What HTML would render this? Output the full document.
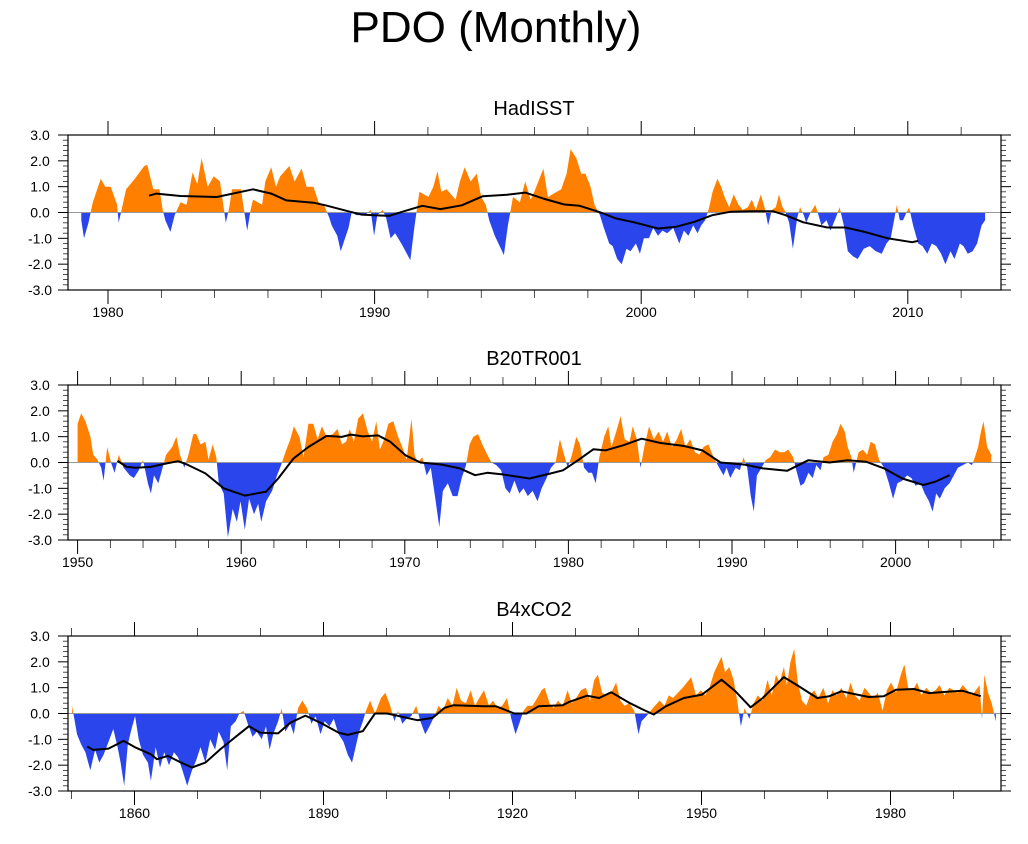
<!DOCTYPE html>
<html><head><meta charset="utf-8"><style>
body{margin:0;background:#fff;}
svg{display:block;font-family:"Liberation Sans",sans-serif;}
</style></head><body>
<svg id="chart" width="1028" height="844" viewBox="0 0 1028 844" xmlns="http://www.w3.org/2000/svg">
<text x="496" y="42" font-size="44" text-anchor="middle">PDO (Monthly)</text>
</svg>
<script>
// HadISST
const hadYears=[1979.0,1979.1,1979.27,1979.43,1979.73,1979.9,1980.1,1980.34,1980.4,1980.55,1980.68,1981.0,1981.36,1981.47,1981.7,1981.93,1982.05,1982.15,1982.34,1982.5,1982.72,1982.95,1983.17,1983.35,1983.51,1983.74,1983.97,1984.2,1984.35,1984.42,1984.55,1984.65,1984.99,1985.1,1985.22,1985.35,1985.44,1985.78,1985.9,1986.12,1986.3,1986.46,1986.8,1987.0,1987.26,1987.45,1987.71,1987.9,1988.1,1988.3,1988.39,1988.6,1988.73,1989.02,1989.15,1989.3,1989.64,1989.85,1989.98,1990.1,1990.3,1990.43,1990.6,1990.77,1991.0,1991.11,1991.34,1991.5,1991.68,1992.02,1992.2,1992.36,1992.5,1992.7,1993.04,1993.2,1993.38,1993.6,1993.83,1994.0,1994.17,1994.3,1994.51,1994.85,1995.0,1995.19,1995.45,1995.65,1995.85,1995.99,1996.33,1996.5,1996.67,1997.0,1997.2,1997.35,1997.57,1997.75,1997.91,1998.1,1998.25,1998.45,1998.6,1998.8,1998.93,1999.1,1999.27,1999.45,1999.6,1999.8,1999.95,2000.1,2000.29,2000.45,2000.63,2000.8,2000.97,2001.2,2001.43,2001.6,2001.77,2001.95,2002.11,2002.25,2002.4,2002.55,2002.68,2002.86,2003.0,2003.13,2003.3,2003.47,2003.65,2003.81,2004.0,2004.15,2004.3,2004.49,2004.65,2004.76,2004.9,2005.05,2005.17,2005.3,2005.4,2005.55,2005.69,2005.85,2005.96,2006.1,2006.19,2006.35,2006.53,2006.65,2006.76,2006.95,2007.1,2007.3,2007.44,2007.6,2007.75,2007.95,2008.12,2008.35,2008.57,2008.8,2009.02,2009.2,2009.36,2009.5,2009.59,2009.7,2009.82,2009.95,2010.05,2010.2,2010.39,2010.55,2010.73,2010.9,2011.07,2011.25,2011.41,2011.6,2011.75,2011.95,2012.09,2012.25,2012.43,2012.6,2012.77,2012.9];
const hadValues=[-0.3,-1.0,-0.4,0.4,1.3,1.0,1.0,0.3,-0.4,0.3,0.9,1.3,1.8,1.85,0.9,0.9,0.1,-0.3,-0.75,-0.1,0.4,0.3,1.55,1.1,2.1,1.0,1.4,1.2,0.1,-0.4,0.2,0.9,0.9,0.1,-0.7,0.1,0.5,0.3,1.2,1.75,1.0,1.4,1.8,1.2,1.7,1.0,1.0,0.4,0.3,-0.2,-0.5,-0.9,-1.5,-0.6,0.05,-0.1,-0.1,0.1,-0.9,-0.1,0.1,-0.2,-1.0,-0.8,-1.2,-1.4,-1.85,-0.5,0.8,0.6,1.0,1.6,0.8,0.9,0.5,1.2,1.75,1.2,1.5,0.6,0.3,-0.3,-0.9,-1.65,-0.5,0.6,0.4,1.2,0.5,0.8,1.7,0.6,0.7,0.9,1.5,2.45,2.1,1.5,1.5,1.0,0.3,-0.1,-0.6,-1.2,-1.3,-1.8,-2.0,-1.4,-1.5,-1.2,-1.6,-1.0,-1.0,-0.6,-0.9,-0.7,-0.8,-0.6,-1.2,-0.7,-0.9,-0.5,-0.8,-0.5,-0.3,0.2,0.8,1.3,1.0,0.6,0.2,0.7,0.3,0.1,0.2,0.5,0.1,0.7,0.1,-0.5,0.1,0.2,0.7,0.2,0.05,-0.4,-1.4,-0.2,0.2,-0.1,-0.4,0.0,0.3,-0.1,-0.5,-0.3,-0.7,-0.2,0.2,-0.5,-1.5,-1.7,-1.8,-1.4,-1.3,-1.5,-1.6,-1.2,-1.0,-0.2,0.3,-0.3,-0.3,0.0,0.2,-0.5,-1.2,-1.3,-1.6,-1.2,-1.3,-1.6,-2.0,-1.5,-1.8,-1.2,-1.3,-1.6,-1.5,-1.2,-0.5,-0.3];
const hadSmoothYears=[1981.54,1981.81,1982.72,1984.08,1985.44,1986.12,1986.69,1987.71,1988.16,1989.07,1989.52,1990.54,1991.11,1991.79,1992.47,1993.27,1994.06,1994.97,1995.65,1996.33,1997.12,1997.69,1998.48,1999.05,1999.73,2000.63,2001.32,2002.0,2002.68,2003.36,2004.15,2004.94,2005.4,2006.08,2006.98,2007.66,2008.34,2009.25,2010.16,2010.39];
const hadSmooth=[0.65,0.73,0.64,0.6,0.9,0.73,0.47,0.38,0.28,0.03,-0.08,-0.13,0.05,0.26,0.13,0.28,0.63,0.69,0.77,0.54,0.31,0.26,0.0,-0.23,-0.38,-0.62,-0.55,-0.36,-0.1,0.03,0.05,0.05,-0.1,-0.38,-0.58,-0.58,-0.74,-1.0,-1.15,-1.1];
const hadTicks=[1980,1990,2000,2010];

// B20TR001
const b20Years=[1950.0,1950.22,1950.48,1950.78,1950.96,1951.22,1951.44,1951.59,1951.81,1952.04,1952.26,1952.52,1952.81,1953.19,1953.44,1953.74,1954.0,1954.3,1954.48,1954.67,1954.93,1955.15,1955.41,1955.78,1956.04,1956.26,1956.52,1956.78,1957.07,1957.26,1957.52,1957.81,1958.0,1958.26,1958.48,1958.63,1958.93,1959.19,1959.48,1959.74,1959.96,1960.22,1960.48,1960.78,1961.04,1961.22,1961.52,1961.89,1962.19,1962.44,1962.7,1963.0,1963.22,1963.56,1963.81,1964.11,1964.41,1964.67,1964.93,1965.22,1965.59,1965.89,1966.15,1966.41,1966.63,1966.89,1967.15,1967.44,1967.74,1968.0,1968.26,1968.48,1968.74,1969.0,1969.3,1969.59,1969.85,1970.11,1970.41,1970.59,1970.78,1971.07,1971.33,1971.59,1971.89,1972.11,1972.33,1972.63,1972.93,1973.22,1973.48,1973.74,1973.96,1974.19,1974.48,1974.74,1975.04,1975.3,1975.59,1975.89,1976.15,1976.41,1976.7,1977.0,1977.26,1977.52,1977.81,1978.11,1978.37,1978.67,1978.93,1979.22,1979.48,1979.74,1979.96,1980.22,1980.48,1980.7,1980.96,1981.22,1981.44,1981.67,1981.89,1982.19,1982.44,1982.63,1982.93,1983.19,1983.44,1983.74,1983.93,1984.19,1984.41,1984.67,1984.93,1985.22,1985.52,1985.78,1986.04,1986.33,1986.63,1986.89,1987.15,1987.44,1987.74,1988.0,1988.26,1988.56,1988.81,1989.0,1989.22,1989.48,1989.67,1989.89,1990.22,1990.48,1990.7,1990.93,1991.15,1991.33,1991.52,1991.81,1992.07,1992.33,1992.63,1992.93,1993.19,1993.44,1993.74,1993.93,1994.19,1994.41,1994.67,1994.93,1995.15,1995.41,1995.59,1995.89,1996.15,1996.41,1996.63,1996.89,1997.07,1997.3,1997.44,1997.74,1998.0,1998.26,1998.48,1998.74,1999.0,1999.3,1999.59,1999.85,2000.11,2000.41,2000.7,2000.96,2001.22,2001.52,2001.78,2002.04,2002.26,2002.48,2002.7,2003.0,2003.3,2003.56,2003.81,2004.11,2004.41,2004.67,2004.85,2005.04,2005.22,2005.37,2005.59,2005.85];
const b20Values=[1.5,1.9,1.6,1.0,0.3,0.1,-0.2,-0.7,0.6,0.0,-0.4,0.3,-0.2,-0.5,-0.6,-0.3,0.1,-0.8,-1.2,-0.5,-0.8,-0.3,0.3,0.6,1.0,0.3,-0.2,0.3,1.1,1.1,0.7,0.8,0.1,0.7,0.2,-0.8,-1.2,-2.9,-1.8,-2.3,-1.5,-2.6,-1.4,-2.0,-1.6,-2.3,-1.5,-1.1,-0.5,-0.1,0.4,0.9,1.4,1.0,0.2,1.5,1.5,0.9,1.4,1.0,1.1,1.3,0.7,0.8,1.3,0.8,1.7,1.9,1.2,0.8,1.6,0.5,0.9,1.5,1.6,1.0,0.6,0.1,1.7,0.3,0.0,0.2,-0.5,-0.2,-1.5,-2.5,-1.1,-0.8,-1.3,-1.3,-0.6,-0.1,0.7,1.0,1.1,0.7,0.3,0.0,-0.1,-0.3,-1.0,-1.2,-0.7,-1.2,-1.0,-1.3,-1.1,-1.5,-1.0,-0.6,-0.2,0.0,0.9,0.3,-0.2,0.3,1.0,0.7,-0.2,-0.4,-0.4,-0.8,0.2,1.0,1.4,0.6,1.2,1.8,0.9,0.8,1.4,0.9,-0.2,0.7,1.4,0.9,1.2,0.8,1.2,0.6,0.9,1.3,0.6,0.9,0.4,0.3,0.6,0.7,0.3,0.05,-0.2,-0.5,-0.2,-0.6,-0.2,-0.3,0.2,-0.2,-1.3,-1.9,-0.5,-0.2,0.1,0.2,0.5,0.4,0.4,0.5,0.2,-0.3,-0.9,-0.8,-0.4,-0.6,-0.1,-0.3,0.2,0.3,0.8,1.1,1.5,1.2,0.6,0.2,-0.4,0.4,0.5,0.3,0.8,0.7,0.1,-0.2,-0.8,-1.4,-0.8,-0.7,-0.5,-0.6,-0.9,-0.8,-1.2,-1.5,-1.9,-1.2,-1.4,-1.0,-0.8,-0.5,-0.2,-0.1,0.0,-0.1,0.2,0.6,1.2,1.6,0.6,0.3];
const b20SmoothYears=[1952.44,1953.0,1953.56,1954.48,1955.41,1956.15,1956.7,1957.81,1958.93,1960.22,1961.52,1962.26,1963.19,1964.11,1965.22,1966.15,1966.7,1967.44,1968.37,1969.11,1970.04,1970.96,1972.26,1973.37,1974.3,1975.04,1975.96,1977.63,1978.93,1979.67,1980.59,1981.52,1982.26,1983.37,1984.48,1985.59,1987.07,1988.19,1989.3,1990.78,1991.89,1993.37,1994.67,1995.96,1997.07,1998.19,1999.3,2000.41,2001.7,2002.44,2003.3];
const b20Smooth=[0.06,-0.17,-0.2,-0.17,-0.04,0.05,-0.08,-0.42,-1.0,-1.28,-1.13,-0.62,0.15,0.6,1.03,0.99,1.08,1.01,1.05,0.8,0.28,0,-0.08,-0.23,-0.49,-0.4,-0.46,-0.62,-0.42,-0.3,0.09,0.51,0.47,0.67,0.92,0.76,0.64,0.47,0,-0.08,-0.23,-0.32,0.09,0,0.09,0.03,-0.23,-0.62,-0.87,-0.74,-0.49];
const b20Ticks=[1950,1960,1970,1980,1990,2000];

// B4xCO2
const b4Years=[1850.1,1850.87,1851.54,1852.21,1852.98,1853.75,1854.42,1855.1,1855.87,1856.63,1857.31,1857.79,1858.37,1858.94,1859.52,1860.1,1860.67,1861.35,1862.12,1862.6,1863.37,1864.04,1864.71,1865.48,1866.25,1866.92,1867.6,1868.37,1869.13,1869.81,1870.48,1871.25,1872.02,1872.79,1873.37,1874.13,1874.71,1875.29,1876.06,1876.63,1877.31,1877.98,1878.75,1879.42,1880.19,1880.87,1881.44,1882.02,1882.79,1883.37,1883.94,1884.71,1885.29,1885.96,1886.63,1887.4,1888.08,1888.75,1889.52,1890.19,1890.96,1891.63,1892.4,1893.17,1893.85,1894.52,1895.1,1895.67,1896.25,1896.73,1897.4,1898.17,1899.13,1899.81,1900.58,1901.25,1901.83,1902.5,1903.17,1903.94,1904.71,1905.38,1906.15,1906.83,1907.6,1908.27,1908.94,1909.71,1910.48,1911.15,1911.83,1912.6,1913.37,1914.04,1914.71,1915.48,1916.25,1916.92,1917.6,1918.37,1919.13,1919.81,1920.48,1921.06,1921.73,1922.4,1923.17,1923.94,1924.62,1925.1,1925.87,1926.54,1927.21,1927.98,1928.75,1929.42,1930.1,1930.87,1931.63,1932.31,1932.98,1933.56,1934.23,1934.9,1935.67,1936.44,1937.12,1937.79,1938.56,1939.33,1940.0,1940.48,1941.25,1941.92,1942.6,1943.37,1944.13,1944.81,1945.48,1946.25,1947.02,1947.69,1948.37,1949.13,1949.9,1950.58,1951.25,1952.02,1952.6,1953.17,1953.75,1954.42,1955.1,1955.67,1956.25,1956.83,1957.6,1958.27,1958.94,1959.71,1960.48,1961.15,1961.83,1962.4,1963.08,1963.56,1964.13,1964.71,1965.29,1965.96,1966.63,1967.21,1967.88,1968.56,1969.33,1970.1,1970.77,1971.44,1972.21,1972.98,1973.65,1974.33,1975.1,1975.87,1976.54,1977.21,1977.98,1978.75,1979.42,1980.1,1980.87,1981.63,1982.21,1982.79,1983.56,1984.23,1984.9,1985.67,1986.44,1987.12,1987.79,1988.56,1989.33,1990.0,1990.67,1991.44,1992.21,1992.88,1993.56,1994.13,1994.52,1994.9,1995.48,1996.06,1996.73];
const b4Values=[0.3,-0.8,-1.2,-1.5,-2.2,-1.4,-1.9,-1.6,-1.1,-0.6,-1.3,-1.9,-2.8,-1.2,-0.6,-0.1,-1.0,-1.6,-1.9,-2.6,-1.3,-2.1,-1.5,-2.0,-1.5,-1.7,-2.2,-2.8,-2.2,-1.8,-1.3,-1.9,-1.0,-1.4,-0.7,-1.1,-2.2,-0.5,-0.3,0.0,0.1,-0.4,-0.9,-0.7,-1.0,-0.5,-1.4,-0.8,-0.3,0.2,-0.7,-0.4,-0.8,0.2,0.5,0.2,-0.4,-0.1,-0.8,-0.3,-0.5,-0.2,-0.8,-1.1,-1.6,-1.9,-1.3,-0.7,-0.3,0.1,0.5,0.0,0.6,0.8,0.3,-0.3,0.1,-0.4,-0.2,-0.1,0.3,-0.3,-0.8,-0.5,-0.1,0.3,0.1,0.6,0.3,1.0,0.5,0.4,0.9,0.3,0.6,0.9,0.3,0.5,0.2,0.3,0.6,-0.2,-0.8,-0.4,0.1,0.3,0.3,0.6,0.9,1.0,0.4,0.2,0.5,0.3,0.9,0.4,0.6,0.9,1.0,0.5,1.3,1.5,0.8,0.7,0.8,1.2,0.5,0.3,0.4,0.1,-0.8,-0.3,-0.1,0.1,0.3,0.5,0.3,0.7,0.6,0.8,1.0,1.2,1.4,0.7,0.9,0.7,1.0,1.6,1.9,2.2,1.6,1.8,1.3,0.5,-0.5,0.2,-0.2,0.4,0.7,0.5,1.3,0.7,1.5,1.2,1.8,1.1,2.0,2.5,1.2,0.5,0.3,0.7,0.9,0.6,1.0,0.4,0.9,0.7,1.0,0.6,1.2,0.7,0.5,1.0,0.8,0.6,0.8,0.1,0.9,1.2,0.8,1.5,1.9,1.0,0.9,1.2,0.7,1.0,0.8,0.9,1.1,0.7,1.0,0.9,0.8,1.1,0.9,0.7,0.9,1.1,-0.2,1.5,0.8,0.4,-0.3];
const b4SmoothYears=[1852.5,1853.46,1855.87,1858.27,1860.19,1862.6,1863.56,1865.29,1867.4,1869.13,1871.25,1873.65,1876.06,1878.17,1879.9,1882.79,1884.71,1887.12,1889.52,1892.4,1893.85,1896.25,1898.17,1900.1,1902.02,1904.9,1907.31,1909.23,1910.67,1915.48,1917.4,1920.29,1922.21,1924.13,1927.98,1928.94,1931.83,1933.75,1935.67,1938.56,1940.48,1942.4,1944.33,1947.21,1950.1,1953.17,1955.38,1957.79,1959.71,1963.08,1965.48,1968.37,1970.29,1972.21,1974.13,1976.54,1978.94,1980.87,1983.75,1986.15,1989.52,1991.44,1994.33];
const b4Smooth=[-1.28,-1.41,-1.36,-1.06,-1.32,-1.58,-1.77,-1.64,-1.9,-2.09,-1.9,-1.38,-0.9,-0.49,-0.74,-0.77,-0.36,-0.08,-0.36,-0.74,-0.83,-0.68,0,0,-0.1,-0.26,-0.17,0.22,0.32,0.28,0.28,0,0,0.28,0.32,0.44,0.69,0.6,0.82,0.41,0.18,-0.04,0.28,0.6,0.73,1.31,0.86,0.24,0.6,1.41,1.05,0.6,0.67,0.86,0.76,0.64,0.67,0.92,0.95,0.79,0.85,0.88,0.67];
const b4Ticks=[1860,1890,1920,1950,1980];
const yTickLabels=["3.0","2.0","1.0","0.0","-1.0","-2.0","-3.0"];

const NS="http://www.w3.org/2000/svg";
const svg=document.getElementById('chart');
function mk(tag,attrs,parent){const e=document.createElementNS(NS,tag);for(const k in attrs)e.setAttribute(k,attrs[k]);(parent||svg).appendChild(e);return e;}

const panels=[
 {key:'hadisst',title:'HadISST',top:135,x0:1980,px0:108,ppy:26.66,minor:2,years:hadYears,vals:hadValues,sy:hadSmoothYears,sv:hadSmooth,ticks:hadTicks},
 {key:'b20tr001',title:'B20TR001',top:385,x0:1950,px0:77.6,ppy:16.36,minor:2,years:b20Years,vals:b20Values,sy:b20SmoothYears,sv:b20Smooth,ticks:b20Ticks},
 {key:'b4xco2',title:'B4xCO2',top:636,x0:1860,px0:134.5,ppy:6.3,minor:10,years:b4Years,vals:b4Values,sy:b4SmoothYears,sv:b4Smooth,ticks:b4Ticks}
];
const L=68,R=1001,H=155;
panels.forEach(p=>{
 const g=mk('g',{});
 
 
 const xs=y=>p.px0+(y-p.x0)*p.ppy;
 const ys=v=>p.top+H/2-v*(H/6);
 const zero=ys(0);
 const t=mk('text',{x:534,y:p.top-20,'font-size':20,'text-anchor':'middle'},g);
 t.textContent=p.title;
 
 
 const cid='clip-'+p.key;
 const defs=mk('defs',{},g);
 const cp=mk('clipPath',{id:cid+'-pos'},defs);
 mk('rect',{x:L,y:p.top,width:R-L,height:zero-p.top},cp);
 const cn=mk('clipPath',{id:cid+'-neg'},defs);
 mk('rect',{x:L,y:zero,width:R-L,height:p.top+H-zero},cn);
 let d='M'+xs(p.years[0]).toFixed(1)+','+zero.toFixed(1);
 p.years.forEach((yr,i)=>{d+='L'+xs(yr).toFixed(1)+','+ys(p.vals[i]).toFixed(1);});
 d+='L'+xs(p.years[p.years.length-1]).toFixed(1)+','+zero.toFixed(1)+'Z';
 const ap=mk('path',{d:d,fill:'#ff8000','clip-path':'url(#'+cid+'-pos)'},g);
 
 
 const an=mk('path',{d:d,fill:'#2a45ec','clip-path':'url(#'+cid+'-neg)'},g);
 
 
 const zl=mk('line',{x1:L,x2:R,y1:zero,y2:zero,stroke:'#999','stroke-width':1},g);
 
 
 let sd='';
 p.sy.forEach((yr,i)=>{sd+=(i?'L':'M')+xs(yr).toFixed(1)+','+ys(p.sv[i]).toFixed(1);});
 const sl=mk('path',{d:sd,fill:'none',stroke:'#000','stroke-width':2,'stroke-linejoin':'round'},g);
 
 
 const fr=mk('rect',{x:L,y:p.top,width:R-L,height:H,fill:'none',stroke:'#000','stroke-width':1.2},g);
 
 
 for(let k=0;k<=30;k++){
  const v=3-k*0.2, y=ys(v), major=k%5===0, len=major?10:5;
  mk('line',{x1:L-len,x2:L,y1:y,y2:y,stroke:'#000','stroke-width':major?1:0.7},g);
  mk('line',{x1:R,x2:R+len,y1:y,y2:y,stroke:'#000','stroke-width':major?1:0.7},g);
 }
 yTickLabels.forEach((lab,i)=>{
  const tx=mk('text',{x:L-28,y:ys(3-i)+5,'font-size':14,'text-anchor':'middle'},g);
  tx.textContent=lab;
  
  
 });
 const yStart=Math.ceil((p.x0-(p.px0-L)/p.ppy)/p.minor)*p.minor;
 for(let yr=yStart;xs(yr)<=R;yr+=p.minor){
  const x=xs(yr), major=p.ticks.indexOf(yr)>=0, len=major?14:8;
  mk('line',{x1:x,x2:x,y1:p.top-len,y2:p.top,stroke:'#000','stroke-width':major?1:0.7},g);
  mk('line',{x1:x,x2:x,y1:p.top+H,y2:p.top+H+len,stroke:'#000','stroke-width':major?1:0.7},g);
 }
 p.ticks.forEach(yr=>{
  const tx=mk('text',{x:xs(yr),y:p.top+H+27,'font-size':14,'text-anchor':'middle'},g);
  tx.textContent=String(yr);
  
  
 });
});
</script>
</body></html>
